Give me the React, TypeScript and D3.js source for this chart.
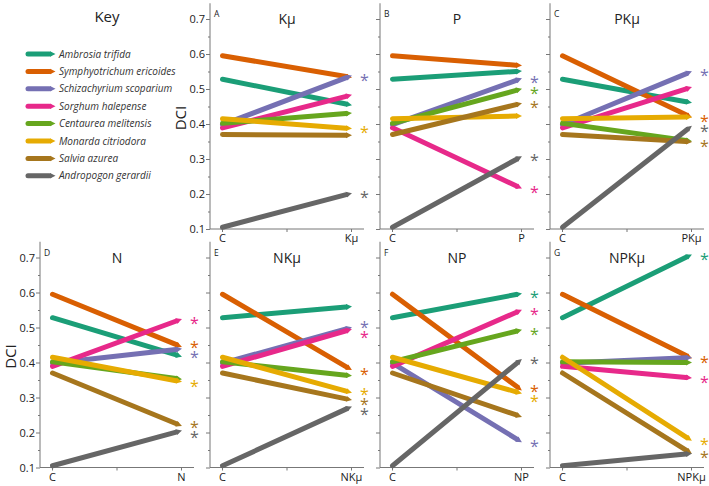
import React, { useEffect, useRef } from "react"
import * as d3 from "d3"

// species shown in the key, in drawing order
const species = [
  "Ambrosia trifida",
  "Symphyotrichum ericoides",
  "Schizachyrium scoparium",
  "Sorghum halepense",
  "Centaurea melitensis",
  "Monarda citriodora",
  "Salvia azurea",
  "Andropogon gerardii",
]

// DCI under control conditions
const control = [0.528, 0.595, 0.398, 0.389, 0.402, 0.415, 0.37, 0.105]

// DCI under each nutrient treatment
const kmu = [0.454, 0.533, 0.538, 0.483, 0.431, 0.387, 0.368, 0.202]
const p = [0.551, 0.567, 0.53, 0.216, 0.5, 0.423, 0.459, 0.307]
const pkmu = [0.461, 0.419, 0.55, 0.505, 0.351, 0.42, 0.349, 0.394]
const n = [0.417, 0.445, 0.439, 0.524, 0.352, 0.345, 0.219, 0.205]
const nkmu = [0.56, 0.379, 0.5, 0.495, 0.362, 0.314, 0.293, 0.274]
const np = [0.597, 0.321, 0.173, 0.55, 0.493, 0.312, 0.245, 0.409]
const npkmu = [0.708, 0.412, 0.414, 0.356, 0.4, 0.177, 0.14, 0.14]

const treatments = ["Kμ", "P", "PKμ", "N", "NKμ", "NP", "NPKμ"]
const letters = ["A", "B", "C", "D", "E", "F", "G"]
const treatmentValues = [kmu, p, pkmu, n, nkmu, np, npkmu]

// species with a significant change (index into species)
const significant = [
  [2, 5, 7],
  [2, 4, 6, 7, 3],
  [2, 1, 7, 6],
  [3, 1, 2, 5, 6, 7],
  [2, 3, 1, 5, 6, 7],
  [0, 3, 4, 7, 1, 5, 2],
  [0, 1, 3, 5, 6],
]

const majorTicks = [0.1, 0.2, 0.3, 0.4, 0.5, 0.6, 0.7]
const minorTicks = [0.15, 0.25, 0.35, 0.45, 0.55, 0.65]

const colors = d3.schemeDark2
const font = "'Open Sans', sans-serif"

// spread labels apart so neighbouring asterisks don't collide
function spread(ys: number[], gap: number) {
  const out = ys.slice()
  for (let k = 0; k < 60; k++) {
    const order = d3.range(out.length).sort((a, b) => out[a] - out[b])
    for (let j = 1; j < order.length; j++) {
      const a = order[j - 1]
      const b = order[j]
      const d = out[b] - out[a]
      if (d < gap) {
        const push = (gap - d) / 2
        out[a] -= push
        out[b] += push
      }
    }
  }
  return out
}

export default function App() {
  const ref = useRef<SVGSVGElement>(null)

  useEffect(() => {
    const svg = d3.select(ref.current)
    svg.selectAll("*").remove()

    const defs = svg.append("defs")
    colors.forEach((c, i) => {
      defs
        .append("marker")
        .attr("id", `head${i}`)
        .attr("viewBox", "0 -5 10 10")
        .attr("refX", 0)
        .attr("refY", 0)
        .attr("markerUnits", "userSpaceOnUse")
        .attr("markerWidth", 6)
        .attr("markerHeight", 7.5)
        .attr("orient", "auto")
        .append("path")
        .attr("d", "M0,-5L10,0L0,5Z")
        .attr("fill", c)
    })

    const headLen = 5.5

    const arrow = (g: any, x1: number, y1: number, x2: number, y2: number, i: number) => {
      const len = Math.hypot(x2 - x1, y2 - y1)
      const ux = (x2 - x1) / len
      const uy = (y2 - y1) / len
      g.append("line")
        .attr("x1", x1)
        .attr("y1", y1)
        .attr("x2", x2 - ux * headLen)
        .attr("y2", y2 - uy * headLen)
        .attr("stroke", colors[i])
        .attr("stroke-width", 5)
        .attr("stroke-linecap", "round")
        .attr("marker-end", `url(#head${i})`)
    }

    // key
    const key = svg.append("g")
    key
      .append("text")
      .attr("x", 107)
      .attr("y", 22)
      .attr("text-anchor", "middle")
      .attr("font-family", font)
      .attr("font-size", 15)
      .attr("fill", "#222")
      .text("Key")
    species.forEach((s, i) => {
      const yy = 54 + i * 17.4
      arrow(key, 28, yy, 55, yy, i)
      key
        .append("text")
        .attr("x", 59)
        .attr("y", yy)
        .attr("dy", "0.35em")
        .attr("font-family", font)
        .attr("font-style", "italic")
        .attr("font-size", 10)
        .attr("fill", "#333")
        .text(s)
    })

    treatments.forEach((t, k) => {
      const row = k < 3 ? 0 : 1
      const col = k < 3 ? k + 1 : k - 3
      const ax = 40 + col * 170
      const base = row === 0 ? 229 : 467.5

      const y = d3.scaleLinear().domain([0.1, 0.7]).range([base, base - 210])
      const x = d3.scalePoint().domain(["C", t]).range([ax + 12.5, ax + 141.5])

      const g = svg.append("g")

      // y axis
      g.append("line")
        .attr("x1", ax)
        .attr("x2", ax)
        .attr("y1", y(0.1))
        .attr("y2", y(0.745))
        .attr("stroke", "#777")
      g.append("g")
        .attr("transform", `translate(${ax},0)`)
        .call(d3.axisLeft(y).tickValues(majorTicks).tickSize(4).tickFormat(d3.format(".1f")))
        .call((a: any) => a.select(".domain").remove())
        .call((a: any) => a.selectAll("line").attr("stroke", "#777"))
        .call((a: any) =>
          a
            .selectAll("text")
            .attr("font-family", font)
            .attr("font-size", 11)
            .attr("fill", "#222")
            .attr("x", -5)
            .style("display", col === 0 || k === 0 ? null : "none")
        )
      g.append("g")
        .attr("transform", `translate(${ax},0)`)
        .call(d3.axisLeft(y).tickValues(minorTicks).tickSize(2).tickFormat(() => ""))
        .call((a: any) => a.select(".domain").remove())
        .call((a: any) => a.selectAll("line").attr("stroke", "#777"))

      if (col === 0 || k === 0) {
        g.append("text")
          .attr("transform", `translate(${ax - 29},${y(0.417)}) rotate(-90)`)
          .attr("text-anchor", "middle")
          .attr("dy", "0.35em")
          .attr("font-family", font)
          .attr("font-size", 15)
          .attr("fill", "#222")
          .text("DCI")
      }

      // x axis
      g.append("line")
        .attr("x1", ax)
        .attr("x2", ax + 154)
        .attr("y1", base)
        .attr("y2", base)
        .attr("stroke", "#777")
      const mid = ((x("C") as number) + (x(t) as number)) / 2
      ;[x("C") as number, mid, x(t) as number].forEach((tx) => {
        g.append("line")
          .attr("x1", tx)
          .attr("x2", tx)
          .attr("y1", base)
          .attr("y2", base + 3)
          .attr("stroke", "#777")
      })
      ;["C", t].forEach((lbl) => {
        g.append("text")
          .attr("x", x(lbl) as number)
          .attr("y", base + 13)
          .attr("text-anchor", "middle")
          .attr("font-family", font)
          .attr("font-size", 11)
          .attr("fill", "#222")
          .text(lbl)
      })

      // title and panel letter
      g.append("text")
        .attr("x", mid)
        .attr("y", y(0.7) + 5)
        .attr("text-anchor", "middle")
        .attr("font-family", font)
        .attr("font-size", 14)
        .attr("fill", "#222")
        .text(t)
      g.append("text")
        .attr("x", ax + 4)
        .attr("y", y(0.7) - 2)
        .attr("font-family", font)
        .attr("font-size", 8.5)
        .attr("fill", "#222")
        .text(letters[k])

      // species arrows
      const vals = treatmentValues[k]
      species.forEach((_, i) => {
        arrow(g, x("C") as number, y(control[i]), x(t) as number, y(vals[i]), i)
      })

      // significance asterisks
      const sig = significant[k]
      const ys = spread(
        sig.map((i) => y(vals[i])),
        10
      )
      sig.forEach((i, j) => {
        g.append("text")
          .attr("x", (x(t) as number) + 13)
          .attr("y", ys[j])
          .attr("dy", "0.62em")
          .attr("text-anchor", "middle")
          .attr("font-family", font)
          .attr("font-size", 16)
          .attr("fill", colors[i])
          .text("*")
      })
    })
  }, [])

  return (
    <svg
      ref={ref}
      width={709}
      height={486}
      style={{ position: "absolute", left: 0, top: 0, background: "#fff" }}
    />
  )
}
